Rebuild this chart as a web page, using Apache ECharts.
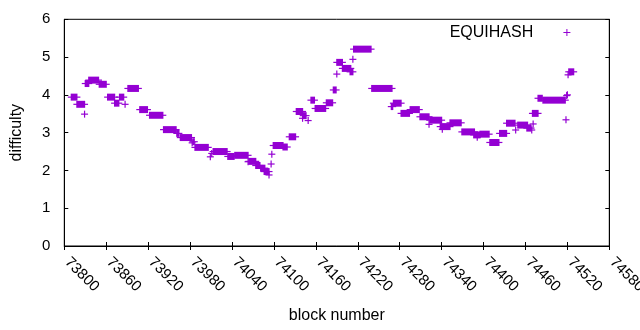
<!DOCTYPE html>
<html>
<head>
<meta charset="utf-8">
<script src="https://cdn.jsdelivr.net/npm/echarts@6/dist/echarts.min.js"></script>
<style>html,body{margin:0;padding:0;background:#fff}#c{width:640px;height:330px}</style>
</head>
<body>
<div id="c"></div>
<script>
// Runs of consecutive blocks sharing the same difficulty (single points have start == end)
const seriesName = 'EQUIHASH';
const runStart = [73810,73818,73829,73830,73835,73850,73862,73872,73879,73887,73891,73908,73922,73942,73961,73966,73983,73984,73987,74009,74011,74013,74034,74044,74063,74064,74074,74081,74086,74093,74096,74097,74099,74113,74122,74132,74141,74142,74149,74153,74159,74175,74185,74190,74190,74198,74209,74213,74214,74240,74268,74271,74282,74295,74309,74322,74323,74338,74341,74352,74369,74386,74391,74395,74409,74423,74433,74446,74449,74462,74469,74471,74470,74478,74485,74518,74519,74520,74521,74522];
const runEnd   = [73818,73829,73829,73835,73849,73860,73872,73878,73885,73887,73906,73919,73941,73960,73964,73982,73983,73986,74006,74009,74011,74033,74043,74063,74063,74074,74080,74087,74093,74093,74096,74097,74113,74119,74131,74141,74141,74146,74149,74158,74174,74184,74189,74190,74198,74210,74213,74213,74239,74269,74270,74282,74294,74308,74322,74322,74340,74352,74341,74368,74387,74395,74391,74408,74422,74433,74445,74446,74463,74468,74469,74471,74478,74484,74517,74518,74519,74520,74521,74529];
const runValue = [3.94,3.75,3.49,4.30,4.39,4.28,3.94,3.78,3.94,3.75,4.17,3.61,3.46,3.08,2.98,2.87,2.73,2.76,2.61,2.36,2.45,2.50,2.37,2.40,2.23,2.24,2.13,2.06,1.97,1.88,2.17,2.43,2.66,2.62,2.89,3.56,3.38,3.45,3.32,3.86,3.64,3.79,4.13,4.55,4.86,4.70,4.61,4.94,5.21,4.17,3.69,3.78,3.51,3.61,3.42,3.22,3.33,3.16,3.09,3.26,3.02,2.94,2.88,2.96,2.74,2.98,3.25,3.07,3.20,3.12,3.07,3.23,3.51,3.91,3.86,3.34,3.98,4.00,4.53,4.61];
const xTicks = {min: 73800, max: 74580, step: 60};
const yTicks = {min: 0, max: 6, step: 1};

const color = '#9400D3';
const font = 'Liberation Sans, Arial, sans-serif';
const data = runStart.map((s, i) => [s, runEnd[i], runValue[i]]);

const chart = echarts.init(document.getElementById('c'), null, {renderer: 'canvas'});
const H = 3.5;
const axisCommon = {
  axisLine: {show: true, lineStyle: {color: '#000', width: 1}},
  axisTick: {show: true, inside: true, length: 4, lineStyle: {color: '#000', width: 1}},
  splitLine: {show: false}
};
chart.setOption({
  animation: false,
  backgroundColor: '#fff',
  textStyle: {fontFamily: font},
  grid: {left: 64.3, right: 30.7, top: 19.3, bottom: 84, containLabel: false, outerBoundsMode: 'none',
         show: true, borderColor: '#000', borderWidth: 1, backgroundColor: 'transparent'},
  legend: {
    data: [{name: seriesName, icon: 'path://M0,3 H3 V0 H4 V3 H7 V4 H4 V7 H3 V4 H0 Z'}],
    right: 69.6, top: 24, padding: 0, align: 'right',
    itemWidth: 57.4, itemHeight: 7, symbolKeepAspect: true,
    itemStyle: {color: color, borderWidth: 0},
    textStyle: {fontFamily: font, fontSize: 16, color: '#000', lineHeight: 17}
  },
  xAxis: [
    Object.assign({
      type: 'value', min: xTicks.min, max: xTicks.max, interval: xTicks.step, position: 'bottom',
      name: 'block number', nameLocation: 'middle', nameGap: 62,
      nameTextStyle: {fontFamily: font, fontSize: 16, color: '#000', verticalAlign: 'top'},
      axisLabel: {rotate: -45, margin: 11, padding: [0, 0, 0, 4], color: '#000', fontFamily: font, fontSize: 15,
                  showMinLabel: true, showMaxLabel: true, formatter: v => String(v)}
    }, axisCommon),
    Object.assign({
      type: 'value', min: xTicks.min, max: xTicks.max, interval: xTicks.step, position: 'top',
      axisLabel: {show: false}
    }, axisCommon)
  ],
  yAxis: [
    Object.assign({
      type: 'value', min: yTicks.min, max: yTicks.max, interval: yTicks.step, position: 'left',
      name: 'difficulty', nameLocation: 'middle', nameGap: 40, nameRotate: 90,
      nameTextStyle: {fontFamily: font, fontSize: 16, color: '#000'},
      axisLabel: {margin: 14, color: '#000', fontFamily: font, fontSize: 15, formatter: v => String(v)}
    }, axisCommon),
    Object.assign({
      type: 'value', min: yTicks.min, max: yTicks.max, interval: yTicks.step, position: 'right',
      axisLabel: {show: false}
    }, axisCommon)
  ],
  series: [{
    name: seriesName,
    type: 'custom',
    xAxisIndex: 0, yAxisIndex: 0,
    itemStyle: {color: color},
    dimensions: ['start', 'end', 'difficulty'],
    encode: {x: [0, 1], y: 2},
    data: data,
    renderItem: function (params, api) {
      const v = api.value(2);
      const p1 = api.coord([api.value(0), v]);
      const p2 = api.coord([api.value(1), v]);
      return {
        type: 'group',
        children: [
          {type: 'rect', shape: {x: p1[0] - 0.6, y: p1[1] - H, width: p2[0] - p1[0] + 1.2, height: 2 * H}, style: {fill: color}},
          {type: 'line', shape: {x1: p1[0] - H, y1: p1[1], x2: p2[0] + H, y2: p1[1]}, style: {stroke: color, lineWidth: 1.2}}
        ]
      };
    }
  }]
});
</script>
</body>
</html>
